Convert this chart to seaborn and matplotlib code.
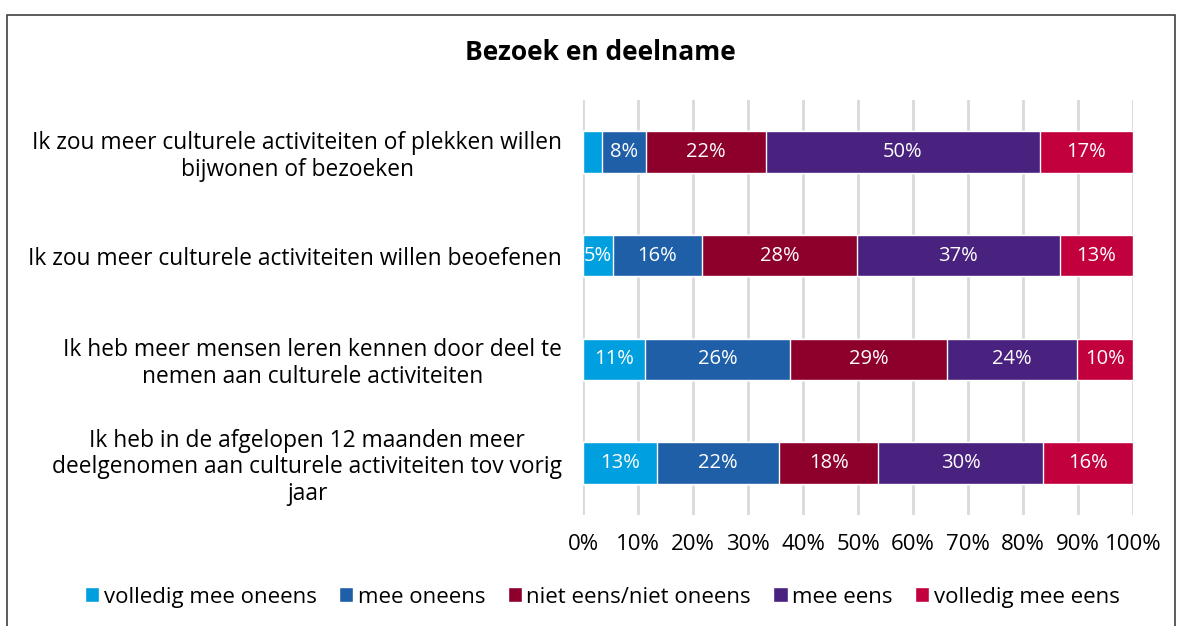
import pandas as pd
import matplotlib.pyplot as plt
import seaborn as sns
from matplotlib.patches import Rectangle

# Data (percentages)
categories = [
    "Ik zou meer culturele activiteiten of plekken willen\nbijwonen of bezoeken",
    "Ik zou meer culturele activiteiten willen beoefenen",
    "Ik heb meer mensen leren kennen door deel te\nnemen aan culturele activiteiten",
    "Ik heb in de afgelopen 12 maanden meer\ndeelgenomen aan culturele activiteiten tov vorig\njaar",
]
series = ["volledig mee oneens", "mee oneens", "niet eens/niet oneens", "mee eens", "volledig mee eens"]
volledig_mee_oneens = [3.5, 5.4, 11.3, 13.4]
mee_oneens = [8.0, 16.2, 26.3, 22.2]
niet_eens_niet_oneens = [21.8, 28.2, 28.6, 18.1]
mee_eens = [49.7, 36.9, 23.6, 29.9]
volledig_mee_eens = [17.0, 13.3, 10.2, 16.4]
colors = ["#009FDF", "#1F5FA8", "#8E002C", "#49217F", "#C1003D"]

values = [volledig_mee_oneens, mee_oneens, niet_eens_niet_oneens, mee_eens, volledig_mee_eens]
df = pd.DataFrame({s: v for s, v in zip(series, values)}, index=categories)
cum = df.cumsum(axis=1)

sns.set_theme(style="white")
plt.rcParams['font.family'] = ['Open Sans', 'DejaVu Sans']
plt.rcParams['text.color'] = 'black'

fig = plt.figure(figsize=(11.81, 6.26), dpi=100)
ax = fig.add_axes([583 / 1181, 111 / 626, 550 / 1181, 415 / 626])

# draw stacked bars by overlaying cumulative totals, widest first
for s, c in reversed(list(zip(series, colors))):
    plot_df = pd.DataFrame({"cat": categories, "val": cum[s].values})
    sns.barplot(data=plot_df, x="val", y="cat", color=c, width=0.4,
                saturation=1, ax=ax, label=s, orient="h")

# segment labels
for i, cat in enumerate(categories):
    for s in series:
        v = df.loc[cat, s]
        if v < 4:
            continue
        mid = cum.loc[cat, s] - v / 2
        ax.text(mid, i, f"{v:.0f}%", ha="center", va="center", color="white", fontsize=14.5)

ax.set_xlim(0, 100)
ax.set_ylim(3.5, -0.5)
ax.set_xticks(range(0, 101, 10))
ax.set_xticklabels([f"{t}%" for t in range(0, 101, 10)])
ax.set_xlabel("")
ax.set_ylabel("")
ax.grid(axis="x", color="#D9D9D9", linewidth=2)
ax.set_axisbelow(True)
for sp in ax.spines.values():
    sp.set_visible(False)
ax.tick_params(axis="x", length=0, pad=14, labelsize=16, labelcolor="black")
ax.tick_params(axis="y", length=0, pad=15, labelsize=16.4, labelcolor="black")
for lbl in ax.get_yticklabels():
    lbl.set_horizontalalignment("right")
    lbl.set_multialignment("center")
    lbl.set_linespacing(1.15)

# legend in original order
handles, labels = ax.get_legend_handles_labels()
order = [labels.index(s) for s in series]
if ax.legend_:
    ax.legend_.remove()
fig.legend([handles[k] for k in order], series, loc="center", bbox_to_anchor=(0.51, 0.046),
           ncol=5, frameon=False, fontsize=16, handlelength=0.65, handleheight=0.65,
           handletextpad=0.2, columnspacing=1.0)

fig.text(0.508, 1 - 53 / 626, "Bezoek en deelname", ha="center", va="center",
         fontsize=19, fontweight="bold")

# outer chart frame
fig.patches.append(Rectangle((7 / 1181, -0.05), (1175 - 7) / 1181, 1.05 - 15 / 626,
                             transform=fig.transFigure, fill=False,
                             edgecolor="#404040", linewidth=1.2))

fig.savefig("out.png", dpi=100)
